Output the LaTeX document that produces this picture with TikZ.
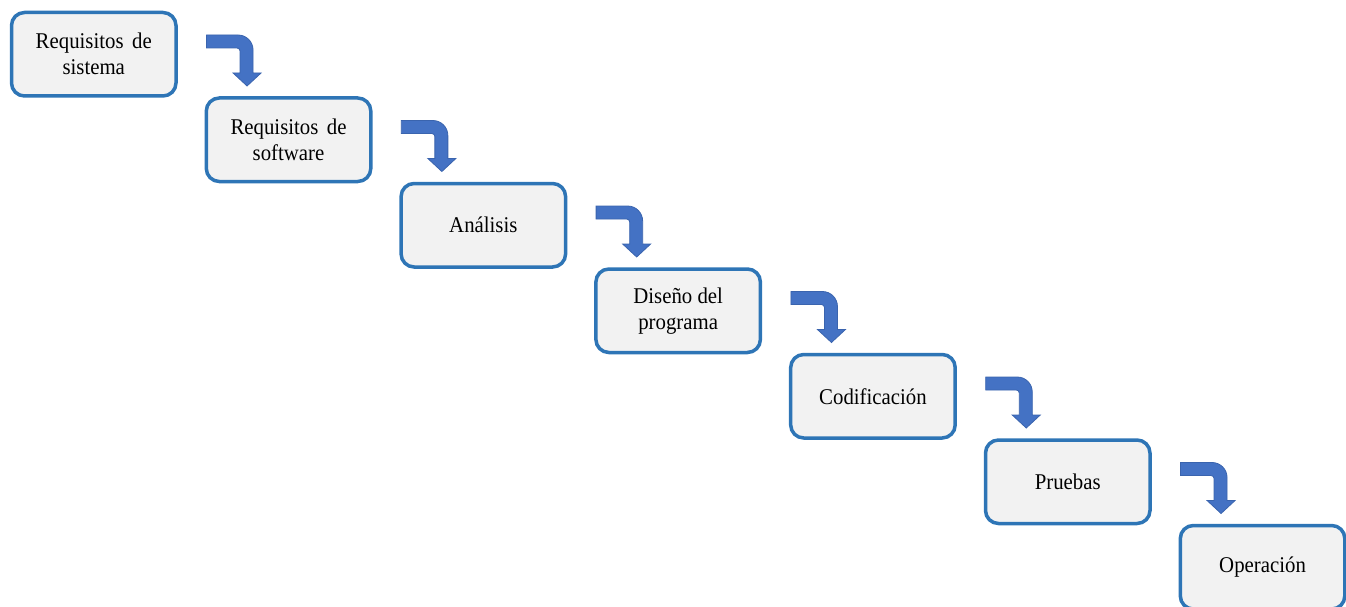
\documentclass[tikz,border=0pt]{standalone}
\usepackage{fontspec}
\setmainfont{Liberation Serif}[FakeStretch=0.925]
\usetikzlibrary{calc}
\definecolor{boxline}{HTML}{2E75B6}
\definecolor{boxfill}{HTML}{F2F2F2}
\definecolor{arrowfill}{HTML}{4472C4}
\definecolor{arrowline}{HTML}{3A64AE}
\begin{document}
\begin{tikzpicture}[x=1pt,y=1pt,
  stage/.style={draw=boxline, fill=boxfill, line width=3.5pt, rounded corners=13pt,
    minimum width=164.5pt, minimum height=83.5pt, inner sep=0pt, align=center,
    anchor=north west, font=\fontsize{22.5}{26}\selectfont},
  stepflow/.style={fill=arrowfill, draw=arrowline, line width=0.8pt, line join=miter}]
\useasboundingbox (0,0) rectangle (1346,-607);

% the stages of the waterfall, stepping down to the right
\node[stage] (s0) at (9.75,-10.75)   {Requisitos\hspace{8.5pt}de\\sistema};
\node[stage] (s1) at (204.55,-96.25) {Requisitos\hspace{8.5pt}de\\software};
\node[stage] (s2) at (399.35,-181.75){Análisis};
\node[stage] (s3) at (594.15,-267.25){Diseño del\\programa};
\node[stage] (s4) at (788.95,-352.75){Codificación};
\node[stage] (s5) at (983.75,-438.25){Pruebas};
\node[stage] (s6) at (1178.55,-523.75){Operación};

% bent block arrows from each stage down to the next
\foreach \a/\b in {0/1,1/2,2/3,3/4,4/5,5/6}
  \draw[stepflow] let \p1=(s\a.north east), \p2=(s\b.north west) in
    (\x1+28.75pt,\y1-24.25pt) -- (\x2+33.5pt,\y1-24.25pt)
    arc[start angle=90,end angle=0,radius=15pt]
    -- (\x2+48.5pt,\y2+23.25pt) -- (\x2+56.5pt,\y2+23.25pt) -- (\x2+42.5pt,\y2+10.25pt)
    -- (\x2+28.5pt,\y2+23.25pt) -- (\x2+35.5pt,\y2+23.25pt) -- (\x2+35.5pt,\y1-40.25pt)
    arc[start angle=0,end angle=90,radius=3pt]
    -- (\x1+28.75pt,\y1-37.25pt) -- cycle;
\end{tikzpicture}
\end{document}
